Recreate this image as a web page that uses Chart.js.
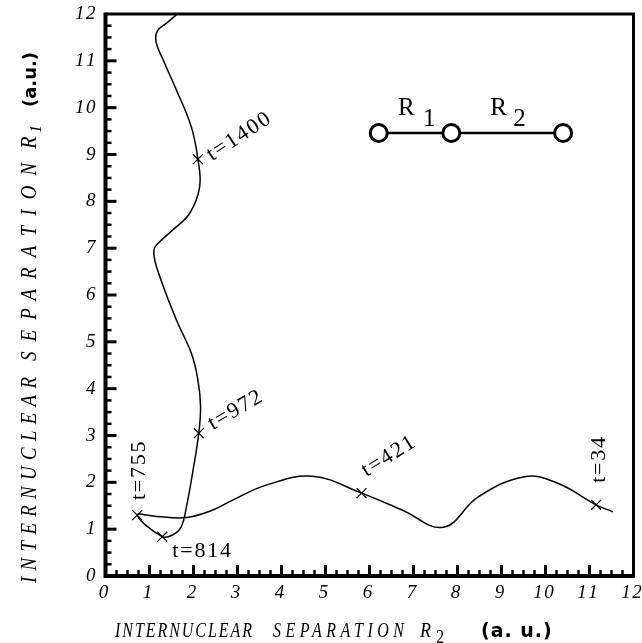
<!DOCTYPE html>
<html>
<head>
<meta charset="utf-8">
<script src="https://cdn.jsdelivr.net/npm/chart.js@4.4.1/dist/chart.umd.min.js"></script>
<style>
  html, body { margin: 0; padding: 0; background: #fff; }
  canvas { display: block; }
</style>
</head>
<body>
<canvas id="chart" width="642" height="643"></canvas>
<script>
// trajectory in the (R2, R1) plane, in time order
const pathR2 = [11.53, 11.15, 10.28, 9.53, 8.47, 7.68, 6.74, 5.82, 4.70, 3.65, 2.89, 2.44, 1.84, 1.16, 0.72,
  1.29, 1.53, 1.72, 1.84, 1.99, 2.12, 2.16, 2.10, 1.95, 1.61, 1.16, 1.10, 1.19, 1.53, 1.91, 2.14, 2.10,
  1.95, 1.61, 1.31, 1.15, 1.18, 1.38, 1.61];
const pathR1 = [1.37, 1.52, 1.98, 2.12, 1.69, 1.04, 1.41, 1.77, 2.13, 1.94, 1.62, 1.41, 1.25, 1.27, 1.30,
  0.84, 0.88, 1.05, 1.48, 2.26, 3.05, 3.62, 4.19, 4.76, 5.47, 6.60, 6.96, 7.10, 7.39, 7.74, 8.31, 8.90,
  9.59, 10.38, 11.02, 11.40, 11.64, 11.80, 11.98];

// marked instants along the trajectory
const markLabels = ['t=34', 't=421', 't=755', 't=814', 't=972', 't=1400'];
const markR2 = [11.15, 5.82, 0.72, 1.29, 2.12, 2.10];
const markR1 = [1.52, 1.77, 1.30, 0.84, 3.05, 8.90];

// sketch of the linear molecule (three nuclei)
const atomR2 = [6.21, 7.86, 10.40];
const atomR1 = [9.46, 9.46, 9.46];
const bondLabels = ['1', '2'];

const tickValues = [0, 1, 2, 3, 4, 5, 6, 7, 8, 9, 10, 11, 12];

// label placement next to each mark: pixel offset, rotation in degrees
const markLabelStyle = [
  { dx: 9, dy: -22, rot: -90 },
  { dx: 5, dy: -16, rot: -32 },
  { dx: 8, dy: -15, rot: -90 },
  { dx: 10, dy: 20, rot: 0 },
  { dx: 14, dy: -3, rot: -30 },
  { dx: 14, dy: 2, rot: -33 }
];

const SERIF = '"Liberation Serif", "DejaVu Serif", serif';
const SANS = '"DejaVu Sans", sans-serif';

function spaced(v) {
  return String(v).split('').join('\u200A');
}

// draw condensed text stretched by letter spacing to a given length
function fitText(ctx, txt, x, y, width, squeeze) {
  ctx.save();
  ctx.translate(x, y);
  ctx.scale(squeeze, 1);
  ctx.letterSpacing = '0px';
  const w = ctx.measureText(txt).width;
  ctx.letterSpacing = ((width / squeeze - w) / (txt.length - 1)) + 'px';
  ctx.fillText(txt, 0, 0);
  ctx.letterSpacing = '0px';
  ctx.restore();
}

const decorations = {
  id: 'decorations',
  afterDatasetsDraw(chart) {
    const { ctx, scales: { x, y } } = chart;
    ctx.save();
    ctx.fillStyle = '#000';

    // mark labels
    ctx.font = '22px ' + SERIF;
    ctx.letterSpacing = '1.8px';
    ctx.textAlign = 'left';
    ctx.textBaseline = 'alphabetic';
    markLabels.forEach((txt, i) => {
      const s = markLabelStyle[i];
      const px = x.getPixelForValue(markR2[i]) + s.dx;
      const py = y.getPixelForValue(markR1[i]) + s.dy;
      ctx.save();
      ctx.translate(px, py);
      ctx.rotate(s.rot * Math.PI / 180);
      ctx.fillText(txt, 0, 0);
      ctx.restore();
    });

    // R1 / R2 labels over the bonds
    ctx.letterSpacing = '0px';
    ctx.font = '25px ' + SERIF;
    bondLabels.forEach((sub, i) => {
      const mx = (x.getPixelForValue(atomR2[i]) + x.getPixelForValue(atomR2[i + 1])) / 2;
      const my = y.getPixelForValue(atomR1[i]);
      ctx.fillText('R', mx - 17, my - 18);
      ctx.fillText(sub, mx + (i === 0 ? 8 : 6), my - 7);
    });
    ctx.restore();
  },
  afterDraw(chart) {
    const { ctx, chartArea: a, scales: { x, y } } = chart;
    ctx.save();
    ctx.strokeStyle = '#000';
    ctx.fillStyle = '#000';
    ctx.lineCap = 'butt';

    // frame: heavy left / bottom, lighter top / right
    ctx.lineWidth = 3;
    ctx.beginPath();
    ctx.moveTo(a.left, a.top);
    ctx.lineTo(a.right, a.top);
    ctx.lineTo(a.right, a.bottom);
    ctx.stroke();
    ctx.lineWidth = 4;
    ctx.beginPath();
    ctx.moveTo(a.left, a.top - 1.5);
    ctx.lineTo(a.left, a.bottom);
    ctx.lineTo(a.right + 1.5, a.bottom);
    ctx.stroke();

    // inward ticks, majors at integers, three minors between
    for (let i = 0; i < tickValues.length - 1; i++) {
      for (let k = 0; k < 4; k++) {
        const v = tickValues[i] + k * (tickValues[i + 1] - tickValues[i]) / 4;
        const major = k === 0;
        const len = major ? 11 : 6;
        ctx.lineWidth = major ? 3 : 2.5;
        if (v > 0) {
          const px = x.getPixelForValue(v);
          ctx.beginPath();
          ctx.moveTo(px, a.bottom);
          ctx.lineTo(px, a.bottom - len);
          ctx.stroke();
          const py = y.getPixelForValue(v);
          ctx.beginPath();
          ctx.moveTo(a.left, py);
          ctx.lineTo(a.left + len, py);
          ctx.stroke();
        }
      }
    }

    // x axis title
    ctx.textAlign = 'left';
    ctx.textBaseline = 'alphabetic';
    ctx.font = 'italic 20px ' + SERIF;
    fitText(ctx, 'INTERNUCLEAR', 115, 637, 137, 0.8);
    fitText(ctx, 'SEPARATION', 273, 637, 131, 0.8);
    fitText(ctx, 'R', 420, 637, 12, 0.9);
    ctx.font = '19px ' + SERIF;
    fitText(ctx, '2', 436, 643, 10, 0.85);
    ctx.font = 'bold 19px ' + SANS;
    ctx.letterSpacing = '1px';
    ctx.fillText('(a. u.)', 481, 637);
    ctx.letterSpacing = '0px';

    // y axis title, reading upwards
    ctx.translate(36, 583);
    ctx.rotate(-Math.PI / 2);
    ctx.font = 'italic 23px ' + SERIF;
    fitText(ctx, 'INTERNUCLEAR', 0, 0, 206, 0.82);
    fitText(ctx, 'SEPARATION', 222, 0, 198, 0.82);
    fitText(ctx, 'R', 434, 0, 14, 0.9);
    ctx.font = 'italic 16px ' + SERIF;
    ctx.fillText('1', 450, 5);
    ctx.font = 'bold 18px ' + SANS;
    ctx.fillText('(a.u.)', 476, 0);
    ctx.restore();
  }
};

const tickFont = { family: SERIF, size: 19, style: 'italic' };

new Chart(document.getElementById('chart'), {
  type: 'scatter',
  data: {
    datasets: [
      {
        data: pathR2.map((v, i) => ({ x: v, y: pathR1[i] })),
        showLine: true,
        borderColor: '#000',
        borderWidth: 1.5,
        pointRadius: 0,
        tension: 0.4,
        fill: false
      },
      {
        data: markR2.map((v, i) => ({ x: v, y: markR1[i] })),
        showLine: false,
        pointStyle: 'crossRot',
        pointRadius: 7,
        borderColor: '#000',
        pointBorderWidth: 1.2
      },
      {
        data: atomR2.map((v, i) => ({ x: v, y: atomR1[i] })),
        showLine: true,
        borderColor: '#000',
        borderWidth: 2.5,
        tension: 0,
        pointRadius: 8.5,
        pointBorderWidth: 3,
        pointBackgroundColor: '#fff',
        pointBorderColor: '#000'
      }
    ]
  },
  options: {
    responsive: false,
    animation: false,
    events: [],
    layout: { autoPadding: false, padding: { left: 0, right: 8.5, top: 14, bottom: 0 } },
    plugins: { legend: { display: false }, tooltip: { enabled: false } },
    scales: {
      x: {
        type: 'linear',
        min: 0,
        max: 12,
        afterBuildTicks: s => { s.ticks = tickValues.map(v => ({ value: v })); },
        ticks: { callback: spaced, font: tickFont, color: '#000', padding: 6, maxRotation: 0, labelOffset: -2 },
        grid: { display: false, drawTicks: false },
        border: { display: false },
        afterFit: s => { s.height = 67; s.paddingLeft = 0; s.paddingRight = 0; }
      },
      y: {
        type: 'linear',
        min: 0,
        max: 12,
        afterBuildTicks: s => { s.ticks = tickValues.map(v => ({ value: v })); },
        ticks: { callback: spaced, font: tickFont, color: '#000', padding: 10 },
        grid: { display: false, drawTicks: false },
        border: { display: false },
        afterFit: s => { s.width = 105.5; s.paddingTop = 0; s.paddingBottom = 0; }
      }
    }
  },
  plugins: [decorations]
});
</script>
</body>
</html>
